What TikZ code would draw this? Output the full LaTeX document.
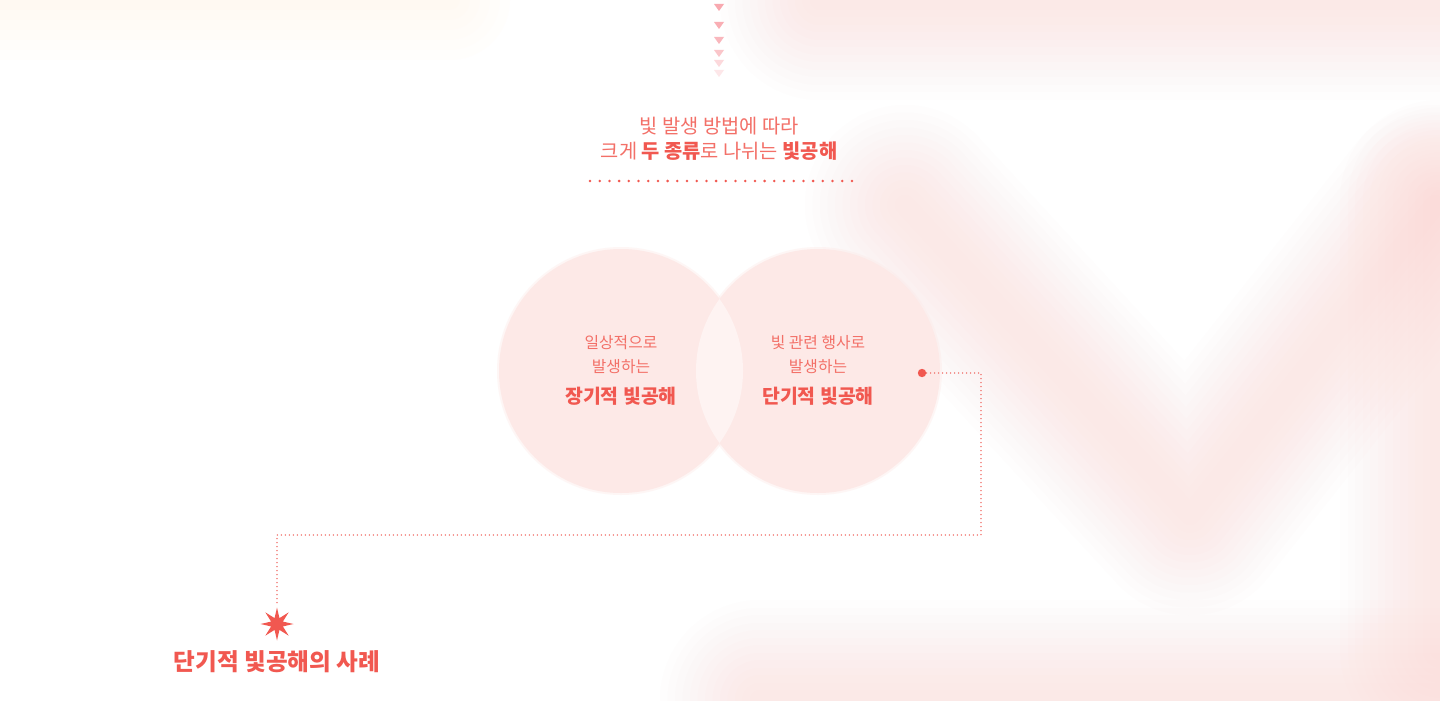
\documentclass[tikz,border=0pt]{standalone}
\usepackage{fontspec}
\newfontfamily\krfont{Noto Sans CJK KR}
\usetikzlibrary{shapes.geometric, positioning}
\definecolor{lpRed}{RGB}{241, 88, 80}
\definecolor{lpSoft}{RGB}{243,112,104}
\definecolor{lpLine}{RGB}{240,100,94}
\definecolor{lpDisk}{RGB}{253,233,231}
\definecolor{lpLens}{RGB}{254,243,242}
\definecolor{lpGlow}{RGB}{251,214,210}
\definecolor{lpCream}{RGB}{255,240,220}
\definecolor{lpTri}{RGB}{248,160,168}

\begin{document}
\begin{tikzpicture}[x=0.5pt, y=-0.5pt,
    every node/.style={font=\krfont},
    glow/.style={draw=lpGlow, line cap=round, line join=round, opacity=0.042},
    soft/.style={text=lpSoft, font=\krfont\fontsize{7.9pt}{10pt}\selectfont},
    hard/.style={text=lpRed, font=\krfont\bfseries\fontsize{9.7pt}{12pt}\selectfont},
    dotline/.style={draw=lpLine, line width=0.8pt, line cap=round, dash pattern=on 0pt off 2pt},
    disk/.style={circle, minimum size=122pt, inner sep=0pt}
  ]
  \useasboundingbox (0,0) rectangle (1440,701);
  \fill[white] (0,0) rectangle (1440,701);

  % soft background glows
  \foreach \w in {20,35,...,200} {
    \draw[glow, line width=\w*0.5pt] (905,205) -- (1190,515) -- (1435,205);
    \draw[glow, line width=\w*0.5pt] (760,700) -- (1440,700);
    \draw[glow, line width=\w*0.5pt] (820,0) -- (1440,0);
    \draw[glow, line width=\w*0.5pt] (1440,200) -- (1440,650);
  }
  \foreach \w in {20,40,...,120} {
    \draw[draw=lpCream, line cap=round, opacity=0.06, line width=\w*0.5pt] (0,0) -- (450,0);
  }

  % arrow marks at the top
  \foreach \y/\o in {7/0.9, 25/0.85, 40/0.75, 53/0.6, 63/0.4, 73/0.25} {
    \fill[lpTri, opacity=\o] (714,\y-3) -- (724,\y-3) -- (719,\y+4) -- cycle;
  }

  % heading
  \node[text=lpSoft, font=\krfont\fontsize{9.9pt}{12pt}\selectfont] (head1) at (719,126) {빛 발생 방법에 따라};
  \node[text=lpSoft, font=\krfont\fontsize{9.9pt}{12pt}\selectfont] (head2) at (719,151)
    {크게 {\bfseries\color{lpRed}두 종류}로 나뉘는 {\bfseries\color{lpRed}빛공해}};
  \coordinate (rule1) at (590,181);
  \coordinate (rule2) at (852,181);
  \draw[draw=lpRed, line width=1.4pt, line cap=round, dash pattern=on 0pt off 4.85pt] (rule1) -- (rule2);

  % two circles
  \foreach \cx in {621,818} {
    \fill[lpDisk, opacity=0.4] (\cx,371) circle (124);
  }
  \node[disk, fill=lpDisk] (long) at (621,371) {};
  \node[disk, fill=lpDisk] (short) at (818,371) {};
  \begin{scope}
    \clip (621,371) circle (122);
    \fill[lpLens] (818,371) circle (122);
  \end{scope}

  % circle texts
  \node[soft] (long1) at (621,343) {일상적으로};
  \node[soft] (long2) at (621,367) {발생하는};
  \node[hard] (long3) at (621,396) {장기적 빛공해};
  \node[soft] (short1) at (818,343) {빛 관련 행사로};
  \node[soft] (short2) at (818,367) {발생하는};
  \node[hard] (short3) at (818,396) {단기적 빛공해};

  % connector to the example
  \node[circle, fill=lpRed, inner sep=0pt, minimum size=4.2pt] (src) at (922,373) {};
  \coordinate (bend1) at (981,373);
  \coordinate (bend2) at (981,535);
  \coordinate (bend3) at (277,535);
  \node[star, star points=8, star point ratio=2.6, fill=lpRed, inner sep=0pt,
        minimum size=16.5pt] (spark) at (277,624) {};
  \draw[dotline] (src) -- (bend1) -- (bend2) -- (bend3) -- ([yshift=1.5pt]spark.north);
  \node[text=lpRed, font=\krfont\bfseries\fontsize{11.8pt}{14pt}\selectfont] (case) at (277,662) {단기적 빛공해의 사례};
\end{tikzpicture}
\end{document}
